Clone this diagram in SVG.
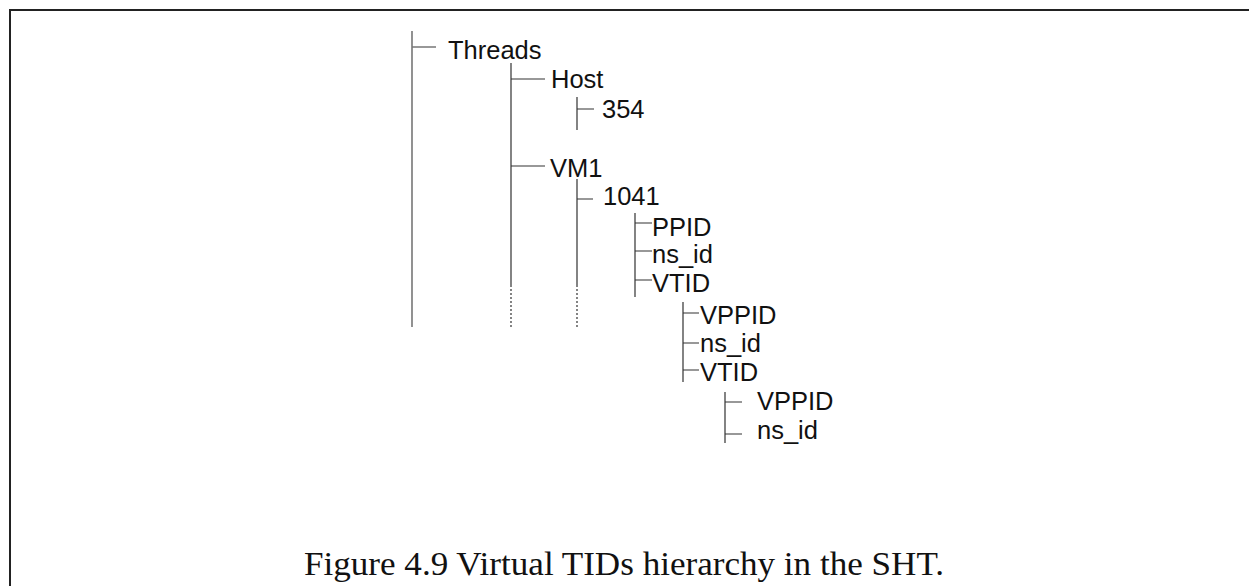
<svg xmlns="http://www.w3.org/2000/svg" width="1249" height="586" viewBox="0 0 1249 586">
  <style>
    .lbl { font-family: "Liberation Sans", Arial, sans-serif; font-size: 25.5px; fill: #111; }
    .cap { font-family: "Liberation Serif", "Times New Roman", serif; font-size: 33px; fill: #111; }
    .ln { stroke: #333; stroke-width: 1.2; fill: none; }
    .ln0 { stroke: #777; stroke-width: 1.6; fill: none; }
    .dot { stroke: #333; stroke-width: 1.2; stroke-dasharray: 2 2; fill: none; }
    .frame { stroke: #222; stroke-width: 2; fill: none; }
  </style>
  <rect width="1249" height="586" fill="#fff"/>
  <!-- page frame -->
  <path class="frame" d="M10 586 V10 H1249"/>

  <g id="connectors">
    <!-- root trunk -->
    <path class="ln0" d="M412 31 V327 M412 47 H436"/>
    <!-- Threads children -->
    <path class="ln" d="M511 63 V285 M511 79 H545 M511 166 H545"/>
    <path class="dot" d="M511 285 V327"/>
    <!-- Host children -->
    <path class="ln" d="M577 97 V130 M577 109 H594"/>
    <!-- VM1 children -->
    <path class="ln" d="M577 179 V285 M577 199 H593"/>
    <path class="dot" d="M577 285 V327"/>
    <!-- 1041 fields -->
    <path class="ln" d="M635 213 V297 M635 223 H652 M635 251 H652 M635 280 H652"/>
    <!-- first VTID fields -->
    <path class="ln" d="M683 302 V382 M683 313 H699 M683 343 H699 M683 370 H699"/>
    <!-- nested VTID fields -->
    <path class="ln" d="M725 392 V443 M725 402 H742 M725 434 H742"/>
  </g>

  <g id="threads"><text class="lbl" x="448" y="59">Threads</text></g>
  <g id="host"><text class="lbl" x="551" y="88">Host</text></g>
  <g id="tid-354"><text class="lbl" x="602" y="118">354</text></g>
  <g id="vm1"><text class="lbl" x="550" y="177">VM1</text></g>
  <g id="tid-1041"><text class="lbl" x="603" y="205">1041</text></g>
  <g id="ppid"><text class="lbl" x="652" y="236">PPID</text></g>
  <g id="nsid-1"><text class="lbl" x="652" y="263">ns_id</text></g>
  <g id="vtid-1"><text class="lbl" x="652" y="292">VTID</text></g>
  <g id="vppid-1"><text class="lbl" x="700" y="324">VPPID</text></g>
  <g id="nsid-2"><text class="lbl" x="700" y="352">ns_id</text></g>
  <g id="vtid-2"><text class="lbl" x="700" y="381">VTID</text></g>
  <g id="vppid-2"><text class="lbl" x="757" y="410">VPPID</text></g>
  <g id="nsid-3"><text class="lbl" x="757" y="439">ns_id</text></g>

  <text class="cap" x="624" y="575" text-anchor="middle" textLength="640" lengthAdjust="spacingAndGlyphs">Figure 4.9 Virtual TIDs hierarchy in the SHT.</text>
</svg>
